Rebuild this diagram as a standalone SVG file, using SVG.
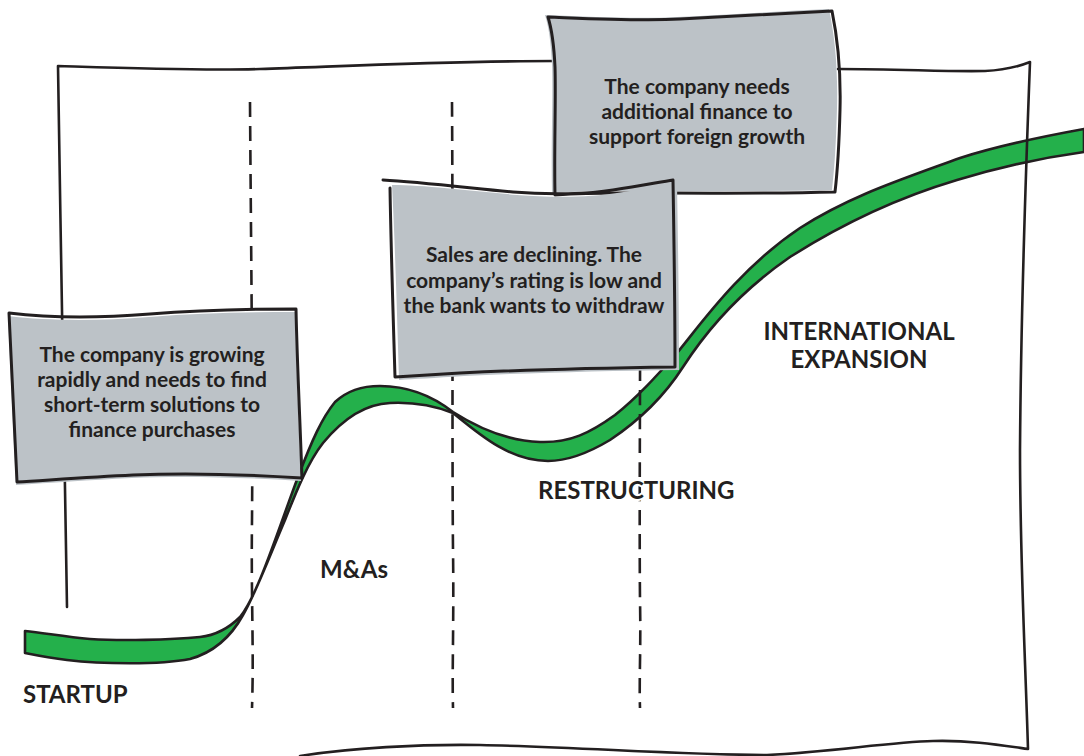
<svg xmlns="http://www.w3.org/2000/svg" width="1084" height="756" viewBox="0 0 1084 756">
<style>
.ink{fill:none;stroke:#231f20;stroke-width:2.6;stroke-linecap:round;stroke-linejoin:round}
.dash{fill:none;stroke:#231f20;stroke-width:2.6;stroke-dasharray:15 9}
.boxfill{fill:#bcc2c7}
.boxline{fill:none;stroke:#231f20;stroke-width:3;stroke-linejoin:round;stroke-linecap:round}
.ribbon{fill:#24b04b;stroke:#231f20;stroke-width:2.6;stroke-linejoin:round}
.t{font-family:Lato,"Liberation Sans",sans-serif;font-weight:700;font-size:21px;fill:#231f20;text-anchor:middle}
.lbl{font-family:Lato,"Liberation Sans",sans-serif;font-weight:700;font-size:24px;fill:#231f20;stroke:#ffffff;stroke-width:4;paint-order:stroke;stroke-linejoin:round}
</style>
<rect width="1084" height="756" fill="#ffffff"/>

<g id="ribbon">
<path class="ribbon" d="M25,631 C45,633 65,637 90,639 C120,641 170,640 200,637 C218,635 230,627 240,617 C258,595 278,530 298,477 C312,440 322,418 335,402 C348,390 362,386 380,386 C410,386 435,398 453,412 C475,426 505,441 540,442 C570,443 590,433 615,415 C640,395 660,372 677,353 C700,325 740,268 800,228 C850,196 900,180 960,158 C1000,145 1040,137 1084,129 L1084,152 C1040,158 1000,167 957,180 C900,197 845,222 790,257 C745,288 710,325 683,367 C665,395 640,420 610,440 C590,452 570,461 548,461 C510,461 480,435 453,413 C430,404 410,402 390,403 C365,404 342,420 323,443 C308,462 296,492 285,520 C270,555 255,595 243,615 C232,635 215,652 190,659 C160,665 100,664 67,660 C50,658 35,655 25,653 Z"/>
</g>

<g id="frame">
<path class="ink" d="M67,607 C64,450 61,250 58,66 C120,68 200,71 260,69 C350,66 450,61 555,61"/>
<path class="ink" d="M838,69 C900,69 950,72 985,71 C1005,70 1020,66 1030,62 C1027,140 1021,300 1020,450 C1020,560 1025,650 1028,749 C1000,745 970,740 933,741 C890,742 830,752 767,755 C680,755 580,747 480,745 C420,744 350,748 300,756"/>
</g>

<g id="connectors">
<path class="dash" d="M250,102 C251,250 253,400 252,520 C251,600 254,650 252,708"/>
<path class="dash" d="M452,102 C453,250 452,450 453,550 C454,620 452,670 453,708"/>
<path class="dash" d="M640,102 C641,300 639,500 640,600 C641,650 639,680 640,708"/>
</g>

<g id="box-foreign">
<path class="boxfill" transform="translate(-3,-2)" d="M548,17 C600,19 640,21 680,19 C740,16 790,13 832,11 C838,40 841,70 840,110 C839,150 837,175 835,192 C760,194 680,193 620,193 C590,193 570,194 555,195 C554,150 556,100 555,67 C554,45 552,30 548,17 Z"/>
<path class="boxline" d="M548,17 C600,19 640,21 680,19 C740,16 790,13 832,11 C838,40 841,70 840,110 C839,150 837,175 835,192 C760,194 680,193 620,193 C590,193 570,194 555,195 C554,150 556,100 555,67 C554,45 552,30 548,17 Z"/>
<text class="t" x="697" y="94">The company needs</text>
<text class="t" x="697" y="119">additional finance to</text>
<text class="t" x="697" y="144">support foreign growth</text>
</g>

<g id="box-restructuring">
<path class="boxfill" transform="translate(4,3)" d="M388,182 C420,182 470,188 513,192 C550,195 590,194 613,190 C640,186 660,182 673,180 C674,240 675,300 675,367 C600,368 520,370 460,373 C430,375 410,376 395,377 C393,310 391,240 388,182 Z"/>
<path class="boxline" d="M383,180 C420,182 470,188 513,192 C550,195 590,194 613,190 C640,186 660,182 673,180 C674,240 675,300 675,367 C600,368 520,370 460,373 C430,375 410,376 395,377 M390,188 C391,250 393,310 395,377"/>
<text class="t" x="534" y="262">Sales are declining. The</text>
<text class="t" x="534" y="288">company’s rating is low and</text>
<text class="t" x="534" y="313">the bank wants to withdraw</text>
</g>

<g id="box-startup">
<path class="boxfill" transform="translate(-1,3)" d="M9,313 C50,318 100,318 150,314 C200,310 250,309 296,309 C297,360 300,420 302,478 C240,474 180,473 133,475 C90,477 50,480 17,482 C14,420 11,360 9,313 Z"/>
<path class="boxline" d="M9,313 C50,318 100,318 150,314 C200,310 250,309 296,309 C297,360 300,420 302,478 C240,474 180,473 133,475 C90,477 50,480 17,482 C14,420 11,360 9,313 Z"/>
<text class="t" x="152" y="362">The company is growing</text>
<text class="t" x="152" y="387">rapidly and needs to find</text>
<text class="t" x="152" y="412">short-term solutions to</text>
<text class="t" x="152" y="437">finance purchases</text>
</g>

<g id="labels">
<text class="lbl" x="23" y="703">STARTUP</text>
<text class="lbl" x="320" y="578">M&amp;As</text>
<text class="lbl" x="538" y="499">RESTRUCTURING</text>
<text class="lbl" x="859" y="340" text-anchor="middle">INTERNATIONAL</text>
<text class="lbl" x="859" y="368" text-anchor="middle">EXPANSION</text>
</g>
</svg>
